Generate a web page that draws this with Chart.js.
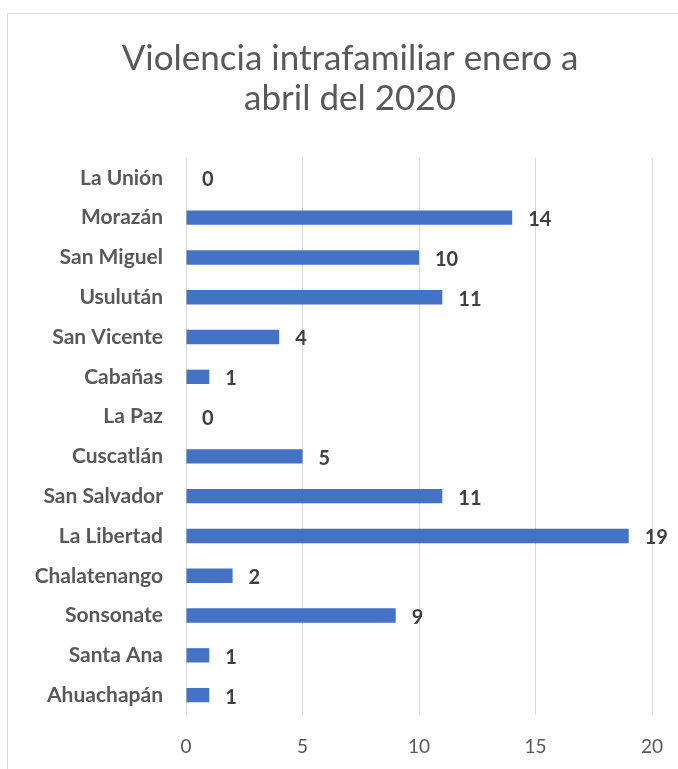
<!DOCTYPE html>
<html>
<head>
<meta charset="utf-8">
<script src="https://cdn.jsdelivr.net/npm/chart.js@4"></script>
<style>
  html, body { margin: 0; padding: 0; background: #fff; overflow: hidden; }
  #wrap { position: relative; width: 678px; height: 769px; }
  #frame { position: absolute; left: 7px; top: 13px; width: 720px; height: 800px; border: 1px solid #d9d9d9; box-sizing: border-box; }
  canvas { position: absolute; left: 0; top: 0; }
</style>
</head>
<body>
<div id="wrap">
  <div id="frame"></div>
  <canvas id="chart" width="678" height="769"></canvas>
</div>
<script>
// departamentos, de arriba hacia abajo
const departamentos = [
  "La Unión", "Morazán", "San Miguel", "Usulután", "San Vicente", "Cabañas", "La Paz",
  "Cuscatlán", "San Salvador", "La Libertad", "Chalatenango", "Sonsonate", "Santa Ana", "Ahuachapán"
];
const casos = [0, 14, 10, 11, 4, 1, 0, 5, 11, 19, 2, 9, 1, 1];
const ticksX = [0, 5, 10, 15, 20];
const titulo = ["Violencia intrafamiliar enero a", "abril del 2020"];

const gris = "#595959";

// titulo centrado sobre todo el recuadro (no solo el area de barras)
const tituloCentrado = {
  id: "tituloCentrado",
  afterDraw(chart) {
    const ctx = chart.ctx;
    ctx.save();
    ctx.font = "35px Lato";
    ctx.fillStyle = gris;
    ctx.textAlign = "center";
    ctx.textBaseline = "middle";
    titulo.forEach((linea, i) => {
      ctx.fillText(linea, 350, 59 + i * 40);
    });
    ctx.restore();
  }
};

// etiquetas de valor al final de cada barra
const valueLabels = {
  id: "valueLabels",
  afterDatasetsDraw(chart) {
    const ctx = chart.ctx;
    const meta = chart.getDatasetMeta(0);
    ctx.save();
    ctx.font = "bold 20px Lato";
    ctx.fillStyle = "#404040";
    ctx.textAlign = "left";
    ctx.textBaseline = "middle";
    meta.data.forEach((bar, i) => {
      ctx.fillText(String(casos[i]), bar.x + 16, bar.y + 2);
    });
    ctx.restore();
  }
};

const chart = new Chart(document.getElementById("chart"), {
  type: "bar",
  data: {
    labels: departamentos,
    datasets: [{
      data: casos,
      backgroundColor: "#4472C4",
      borderWidth: 0,
      barPercentage: 0.36,
      categoryPercentage: 1
    }]
  },
  options: {
    indexAxis: "y",
    responsive: false,
    animation: false,
    layout: { padding: { left: 8, right: 26, top: 158, bottom: 0 } },
    plugins: {
      legend: { display: false },
      tooltip: { enabled: false },
      title: { display: false }
    },
    scales: {
      x: {
        min: 0,
        max: 20,
        afterBuildTicks(scale) {
          scale.ticks = ticksX.map(v => ({ value: v }));
        },
        afterFit(scale) {
          scale.height = 54;
          scale.paddingLeft = 0;
          scale.paddingRight = 0;
        },
        grid: { color: "#d9d9d9", lineWidth: 1, drawTicks: false },
        border: { display: false },
        ticks: {
          color: gris,
          padding: 20,
          font: { family: "Lato", size: 19 }
        }
      },
      y: {
        afterFit(scale) { scale.width = 178; },
        grid: { display: false },
        border: { display: false },
        ticks: {
          color: gris,
          padding: 15,
          font: { family: "Lato", size: 21, weight: "bold" }
        }
      }
    }
  },
  plugins: [valueLabels, tituloCentrado]
});
</script>
</body>
</html>
